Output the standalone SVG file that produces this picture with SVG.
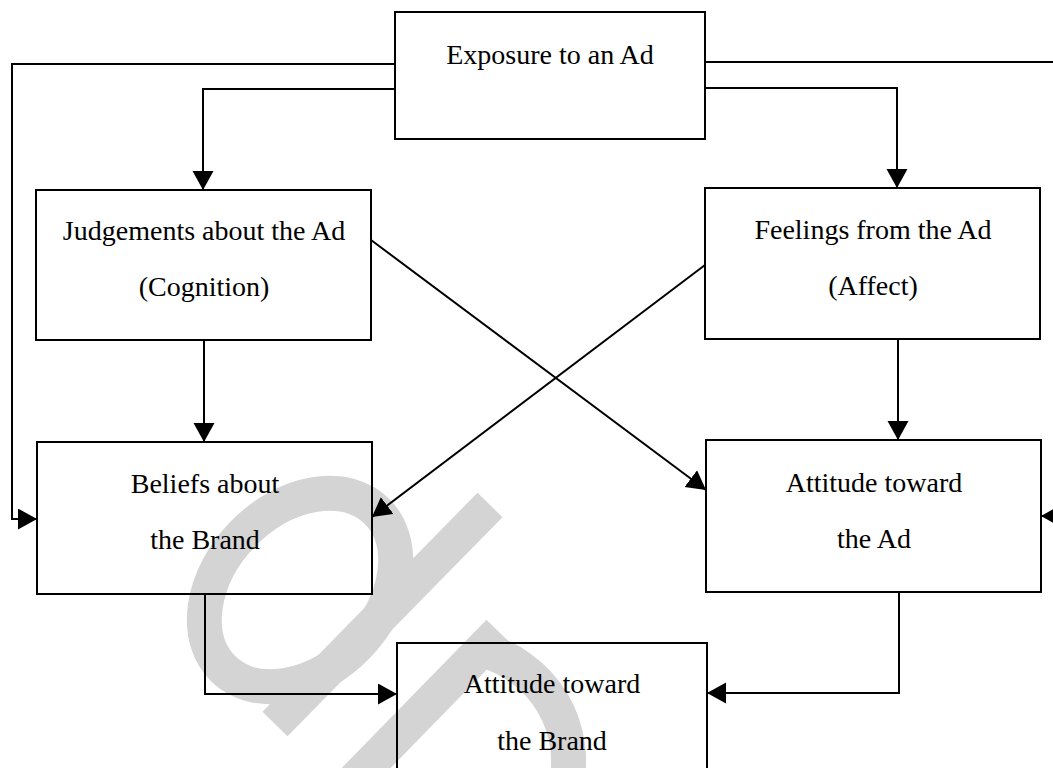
<svg xmlns="http://www.w3.org/2000/svg" width="1053" height="768" viewBox="0 0 1053 768">
<style>
.box{fill:none;stroke:#000;stroke-width:2}
.lbl{font-family:"Liberation Serif","Times New Roman",serif;font-size:28px;fill:#000;text-anchor:middle}
.con{fill:none;stroke:#000;stroke-width:2;marker-end:url(#ah)}
.wm{fill:none;stroke:#d4d4d4;stroke-width:35}
</style>
<defs>
<marker id="ah" markerUnits="userSpaceOnUse" markerWidth="20" markerHeight="22" refX="19" refY="10.5" orient="auto">
<path d="M0,0 L19,10.5 L0,21 Z" fill="#000"/>
</marker>
</defs>
<rect width="1053" height="768" fill="#fff"/>
<g id="watermark">
<ellipse class="wm" cx="300" cy="590" rx="110" ry="80" transform="rotate(-46 300 590)"/>
<line class="wm" x1="490" y1="505" x2="275" y2="724"/>
<line class="wm" x1="499" y1="632" x2="330" y2="805"/>
<path class="wm" d="M482,650 A115,115 0 0 1 565,790"/>
</g>
<g id="connectors">
<path class="con" d="M395,64 H12 V519 H37"/>
<path class="con" d="M395,89 H203 V190"/>
<path class="con" d="M705,62 H1075 V516 H1041"/>
<path class="con" d="M705,88 H897 V188"/>
<path class="con" d="M204,340 V442"/>
<path class="con" d="M898,339 V440"/>
<path class="con" d="M371,240 L706,490"/>
<path class="con" d="M705,265 L372,517"/>
<path class="con" d="M205,594 V694 H397"/>
<path class="con" d="M899,592 V693 H707"/>
</g>
<g id="exposure">
<rect class="box" x="395" y="12" width="310" height="127"/>
<text class="lbl" x="550" y="64">Exposure to an Ad</text>
</g>
<g id="judgements">
<rect class="box" x="36" y="190" width="335" height="150"/>
<text class="lbl" x="204" y="240">Judgements about the Ad</text>
<text class="lbl" x="204" y="296">(Cognition)</text>
</g>
<g id="feelings">
<rect class="box" x="705" y="188" width="335" height="151"/>
<text class="lbl" x="873" y="239">Feelings from the Ad</text>
<text class="lbl" x="873" y="295">(Affect)</text>
</g>
<g id="beliefs">
<rect class="box" x="37" y="442" width="335" height="152"/>
<text class="lbl" x="205" y="493">Beliefs about</text>
<text class="lbl" x="205" y="549">the Brand</text>
</g>
<g id="attitude-ad">
<rect class="box" x="706" y="440" width="335" height="152"/>
<text class="lbl" x="874" y="492">Attitude toward</text>
<text class="lbl" x="874" y="548">the Ad</text>
</g>
<g id="attitude-brand">
<rect class="box" x="397" y="643" width="310" height="140"/>
<text class="lbl" x="552" y="693">Attitude toward</text>
<text class="lbl" x="552" y="750">the Brand</text>
</g>
</svg>
